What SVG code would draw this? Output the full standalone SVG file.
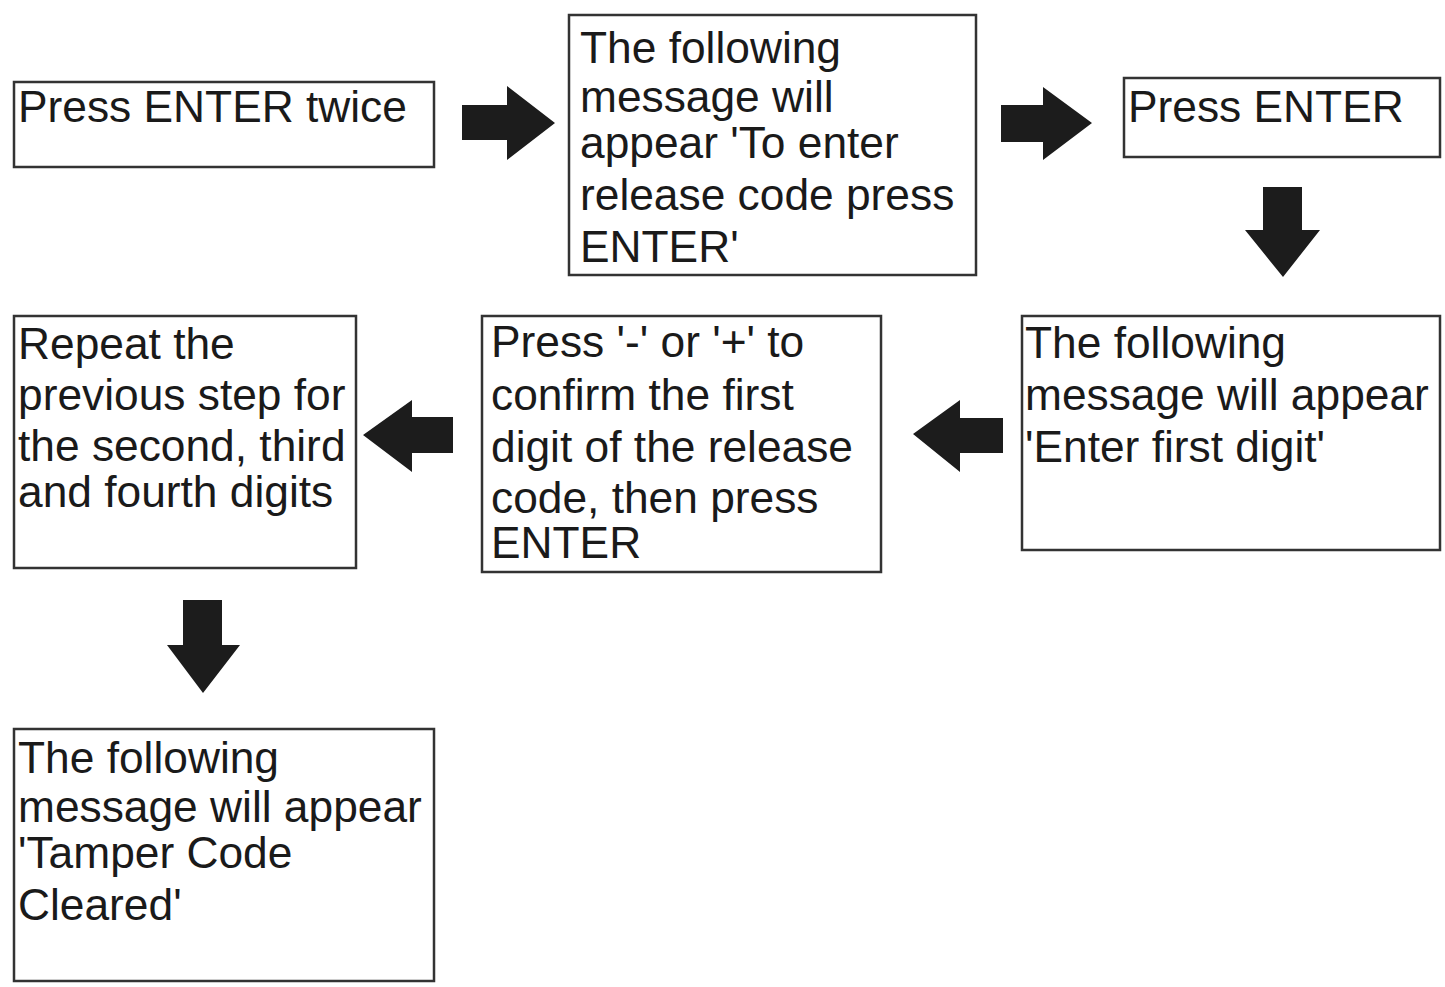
<svg xmlns="http://www.w3.org/2000/svg" width="1445" height="987" viewBox="0 0 1445 987">
<style>
.box{fill:#fff;stroke:#333;stroke-width:2.5}
.t{font-family:"Liberation Sans",Arial,sans-serif;font-size:44.3px;fill:#1a1a1a}
.arr{fill:#1c1c1c}
</style>
<rect width="1445" height="987" fill="#fff"/>
<g id="connectors">
<polygon class="arr" points="462,105 507,105 507,86 555,123 507,160 507,140 462,140"/>
<polygon class="arr" points="1001,105 1043,105 1043,87 1092,123 1043,160 1043,142 1001,142"/>
<polygon class="arr" points="1263,187 1302,187 1302,230 1320,230 1283,277 1245,230 1263,230"/>
<polygon class="arr" points="1003,418 960,418 960,400 913,434 960,472 960,453 1003,453"/>
<polygon class="arr" points="453,417 412,417 412,400 363,435 412,472 412,453 453,453"/>
<polygon class="arr" points="183,600 222,600 222,645 240,645 203,693 167,645 183,645"/>
</g>
<g id="n1">
<rect class="box" x="14" y="82" width="420" height="85"/>
<text class="t" x="18" y="122">Press ENTER twice</text>
</g>
<g id="n2">
<rect class="box" x="569" y="15" width="407" height="260"/>
<text class="t" x="580" y="63">The following</text>
<text class="t" x="580" y="112">message will</text>
<text class="t" x="580" y="158">appear 'To enter</text>
<text class="t" x="580" y="210">release code press</text>
<text class="t" x="580" y="262">ENTER'</text>
</g>
<g id="n3">
<rect class="box" x="1124" y="78" width="316" height="79"/>
<text class="t" x="1128" y="122">Press ENTER</text>
</g>
<g id="n4">
<rect class="box" x="1022" y="316" width="418" height="234"/>
<text class="t" x="1025" y="358">The following</text>
<text class="t" x="1025" y="410">message will appear</text>
<text class="t" x="1025" y="462">'Enter first digit'</text>
</g>
<g id="n5">
<rect class="box" x="482" y="316" width="399" height="256"/>
<text class="t" x="491" y="357">Press '-' or '+' to</text>
<text class="t" x="491" y="410">confirm the first</text>
<text class="t" x="491" y="462">digit of the release</text>
<text class="t" x="491" y="513">code, then press</text>
<text class="t" x="491" y="558">ENTER</text>
</g>
<g id="n6">
<rect class="box" x="14" y="316" width="342" height="252"/>
<text class="t" x="18" y="359">Repeat the</text>
<text class="t" x="18" y="410">previous step for</text>
<text class="t" x="18" y="461">the second, third</text>
<text class="t" x="18" y="507">and fourth digits</text>
</g>
<g id="n7">
<rect class="box" x="14" y="729" width="420" height="252"/>
<text class="t" x="18" y="773">The following</text>
<text class="t" x="18" y="822">message will appear</text>
<text class="t" x="18" y="868">'Tamper Code</text>
<text class="t" x="18" y="920">Cleared'</text>
</g>
</svg>
